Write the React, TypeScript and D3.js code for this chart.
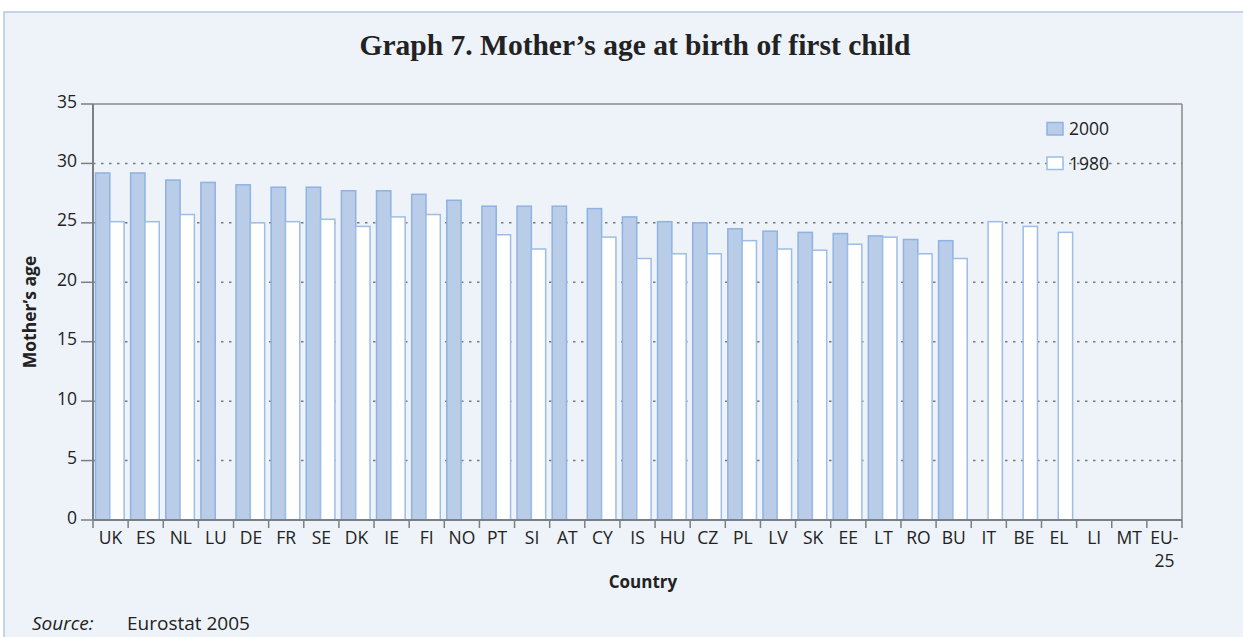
import React from 'react';
import * as d3 from 'd3';

const countries = ['UK', 'ES', 'NL', 'LU', 'DE', 'FR', 'SE', 'DK', 'IE', 'FI', 'NO', 'PT', 'SI', 'AT', 'CY', 'IS', 'HU', 'CZ', 'PL', 'LV', 'SK', 'EE', 'LT', 'RO', 'BU', 'IT', 'BE', 'EL', 'LI', 'MT', 'EU-25'];
const age2000 = [29.2, 29.2, 28.6, 28.4, 28.2, 28.0, 28.0, 27.7, 27.7, 27.4, 26.9, 26.4, 26.4, 26.4, 26.2, 25.5, 25.1, 25.0, 24.5, 24.3, 24.2, 24.1, 23.9, 23.6, 23.5, null, null, null, null, null, null];
const age1980 = [25.1, 25.1, 25.7, null, 25.0, 25.1, 25.3, 24.7, 25.5, 25.7, null, 24.0, 22.8, null, 23.8, 22.0, 22.4, 22.4, 23.5, 22.8, 22.7, 23.2, 23.8, 22.4, 22.0, 25.1, 24.7, 24.2, null, null, null];
const seriesNames = ['2000', '1980'];
const yTicks = [0, 5, 10, 15, 20, 25, 30, 35];

const W = 1243;
const H = 637;
const margin = { top: 104, right: 61, bottom: 117, left: 93 };
const sans = '"Open Sans", "Noto Sans", sans-serif';
const fills = ['#b9cde9', '#ffffff'];
const strokes = ['#8fb2e2', '#9dbde6'];
const fs = 17.5;

const App = () => {
  const x = d3.scaleBand<string>()
    .domain(countries)
    .range([margin.left, W - margin.right]);
  const y = d3.scaleLinear()
    .domain([0, 35])
    .range([H - margin.bottom, margin.top]);
  const bw = x.bandwidth();
  const xs = d3.scaleBand<string>()
    .domain(seriesNames)
    .range([2.5, bw - 4]);
  const seriesVals = [age2000, age1980];
  const x0 = margin.left;
  const x1 = W - margin.right;
  const y0 = y(0);

  return (
    <svg width={W} height={H} style={{ position: 'absolute', left: 0, top: 0 }}>
      <rect x={4} y={12} width={W} height={H} fill="#eef3f9" stroke="#b5c8e3" strokeWidth={1.5} />
      <text x={635} y={55} textAnchor="middle" fontFamily='"Liberation Serif", serif' fontWeight="bold" fontSize={29.5} fill="#222">
        Graph 7. Mother’s age at birth of first child
      </text>

      {yTicks.filter(t => t > 0 && t < 35).map(t => (
        <line key={'g' + t} x1={x0} x2={x1} y1={y(t)} y2={y(t)} stroke="#7a7a7a" strokeWidth={1.5} strokeDasharray="2.5,5.5" />
      ))}

      {seriesVals.map((vals, si) => vals.map((v, i) => v == null ? null : (
        <rect key={si + '-' + i}
          x={(x(countries[i]) as number) + (xs(seriesNames[si]) as number)}
          y={y(v)}
          width={xs.bandwidth()}
          height={y0 - y(v)}
          fill={fills[si]} stroke={strokes[si]} strokeWidth={1.5} />
      )))}

      <line x1={x0} x2={x1} y1={y(35)} y2={y(35)} stroke="#8a8a8a" strokeWidth={1.5} />
      <line x1={x1} x2={x1} y1={y(35)} y2={y0} stroke="#8a8a8a" strokeWidth={1.5} />
      <line x1={x0} x2={x0} y1={y(35)} y2={y0} stroke="#7a7f86" strokeWidth={2} />
      <line x1={x0} x2={x1} y1={y0} y2={y0} stroke="#7a7f86" strokeWidth={2} />

      {yTicks.map(t => (
        <g key={'y' + t}>
          <line x1={x0 - 12} x2={x0} y1={y(t)} y2={y(t)} stroke="#7a7f86" strokeWidth={1.5} />
          <text x={x0 - 16} y={y(t)} dy="0.2em" textAnchor="end" fontFamily={sans} fontSize={fs} fill="#222">{t}</text>
        </g>
      ))}

      {countries.map(c => (
        <line key={'xt' + c} x1={x(c) as number} x2={x(c) as number} y1={y0} y2={y0 + 8} stroke="#7a7f86" strokeWidth={1.5} />
      ))}
      <line x1={x1} x2={x1} y1={y0} y2={y0 + 8} stroke="#7a7f86" strokeWidth={1.5} />
      {countries.map(c => {
        const parts = c.includes('-') ? [c.split('-')[0] + '-', c.split('-')[1]] : [c];
        return (
          <text key={'xl' + c} x={(x(c) as number) + bw / 2} y={y0 + 24} textAnchor="middle" fontFamily={sans} fontSize={fs} fill="#222">
            {parts.map((p, k) => (
              <tspan key={k} x={(x(c) as number) + bw / 2} dy={k === 0 ? 0 : 23}>{p}</tspan>
            ))}
          </text>
        );
      })}

      <text x={643} y={588} textAnchor="middle" fontFamily={sans} fontWeight="bold" fontSize={17} fill="#222">Country</text>
      <text transform={`translate(36,${(y(35) + y0) / 2}) rotate(-90)`} textAnchor="middle" fontFamily={sans} fontWeight="bold" fontSize={17.5} fill="#222">Mother’s age</text>

      {seriesNames.map((s, i) => (
        <g key={'lg' + s} transform={`translate(1047,${122.5 + i * 34.5})`}>
          <rect x={0} y={0} width={16} height={12.5} fill={fills[i]} stroke={strokes[i]} strokeWidth={1.5} />
          <text x={22} y={12.5} fontFamily={sans} fontSize={fs} fill="#222">{s}</text>
        </g>
      ))}

      <text x={32} y={630} fontFamily={sans} fontSize={19} fontStyle="italic" fill="#222">Source:</text>
      <text x={127} y={630} fontFamily={sans} fontSize={19} fill="#222">Eurostat 2005</text>
    </svg>
  );
};

export default App;
